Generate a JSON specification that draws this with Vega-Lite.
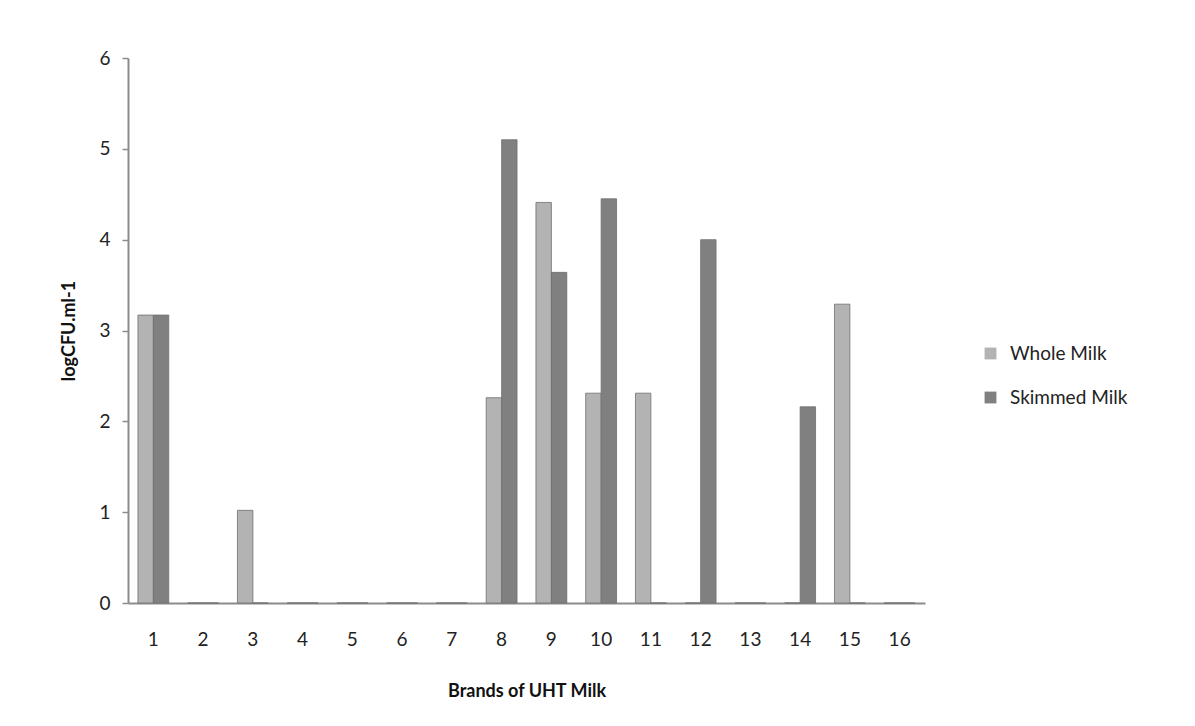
{
  "$schema": "https://vega.github.io/schema/vega-lite/v6.json",
  "autosize": "none",
  "width": 797,
  "height": 545,
  "padding": {"left": 128, "top": 58, "right": 270, "bottom": 123},
  "background": "white",
  "data": {
    "values": [
      {"brand": "1", "series": "Whole Milk", "value": 3.17},
      {"brand": "1", "series": "Skimmed Milk", "value": 3.17},
      {"brand": "2", "series": "Whole Milk", "value": 0},
      {"brand": "2", "series": "Skimmed Milk", "value": 0},
      {"brand": "3", "series": "Whole Milk", "value": 1.02},
      {"brand": "3", "series": "Skimmed Milk", "value": 0},
      {"brand": "4", "series": "Whole Milk", "value": 0},
      {"brand": "4", "series": "Skimmed Milk", "value": 0},
      {"brand": "5", "series": "Whole Milk", "value": 0},
      {"brand": "5", "series": "Skimmed Milk", "value": 0},
      {"brand": "6", "series": "Whole Milk", "value": 0},
      {"brand": "6", "series": "Skimmed Milk", "value": 0},
      {"brand": "7", "series": "Whole Milk", "value": 0},
      {"brand": "7", "series": "Skimmed Milk", "value": 0},
      {"brand": "8", "series": "Whole Milk", "value": 2.26},
      {"brand": "8", "series": "Skimmed Milk", "value": 5.1},
      {"brand": "9", "series": "Whole Milk", "value": 4.41},
      {"brand": "9", "series": "Skimmed Milk", "value": 3.64},
      {"brand": "10", "series": "Whole Milk", "value": 2.31},
      {"brand": "10", "series": "Skimmed Milk", "value": 4.45},
      {"brand": "11", "series": "Whole Milk", "value": 2.31},
      {"brand": "11", "series": "Skimmed Milk", "value": 0},
      {"brand": "12", "series": "Whole Milk", "value": 0},
      {"brand": "12", "series": "Skimmed Milk", "value": 4.0},
      {"brand": "13", "series": "Whole Milk", "value": 0},
      {"brand": "13", "series": "Skimmed Milk", "value": 0},
      {"brand": "14", "series": "Whole Milk", "value": 0},
      {"brand": "14", "series": "Skimmed Milk", "value": 2.16},
      {"brand": "15", "series": "Whole Milk", "value": 3.29},
      {"brand": "15", "series": "Skimmed Milk", "value": 0},
      {"brand": "16", "series": "Whole Milk", "value": 0},
      {"brand": "16", "series": "Skimmed Milk", "value": 0}
    ]
  },
  "mark": {"type": "bar", "stroke": "#6e6e6e", "strokeWidth": 0.8},
  "encoding": {
    "x": {
      "field": "brand",
      "type": "ordinal",
      "sort": null,
      "scale": {"paddingInner": 0.38, "paddingOuter": 0.2},
      "axis": {
        "title": "Brands of UHT Milk",
        "labelAngle": 0,
        "labelFontSize": 19,
        "labelColor": "#222",
        "labelPadding": 27,
        "ticks": false,
        "domainColor": "#8c8c8c",
        "domainWidth": 2,
        "titleFontSize": 18,
        "titleFontWeight": "bold",
        "titleColor": "#111",
        "titlePadding": 33
      }
    },
    "xOffset": {
      "field": "series",
      "type": "nominal",
      "sort": ["Whole Milk", "Skimmed Milk"]
    },
    "y": {
      "field": "value",
      "type": "quantitative",
      "scale": {"domain": [0, 6]},
      "axis": {
        "title": "logCFU.ml-1",
        "values": [0, 1, 2, 3, 4, 5, 6],
        "grid": false,
        "labelFontSize": 19,
        "labelColor": "#222",
        "labelPadding": 12,
        "tickSize": 6,
        "tickColor": "#8c8c8c",
        "tickWidth": 1.5,
        "domainColor": "#8c8c8c",
        "domainWidth": 2,
        "titleFontSize": 18,
        "titleFontWeight": "bold",
        "titleColor": "#111",
        "titlePadding": 20
      }
    },
    "color": {
      "field": "series",
      "type": "nominal",
      "sort": ["Whole Milk", "Skimmed Milk"],
      "scale": {"domain": ["Whole Milk", "Skimmed Milk"], "range": ["#b3b3b3", "#808080"]},
      "legend": {
        "title": null,
        "orient": "none",
        "legendX": 853,
        "legendY": 286,
        "symbolType": "square",
        "symbolSize": 140,
        "symbolStrokeWidth": 0,
        "labelFontSize": 19,
        "labelColor": "#222",
        "rowPadding": 24,
        "labelOffset": 10
      }
    }
  },
  "config": {
    "font": "Lato",
    "view": {"stroke": null}
  }
}
